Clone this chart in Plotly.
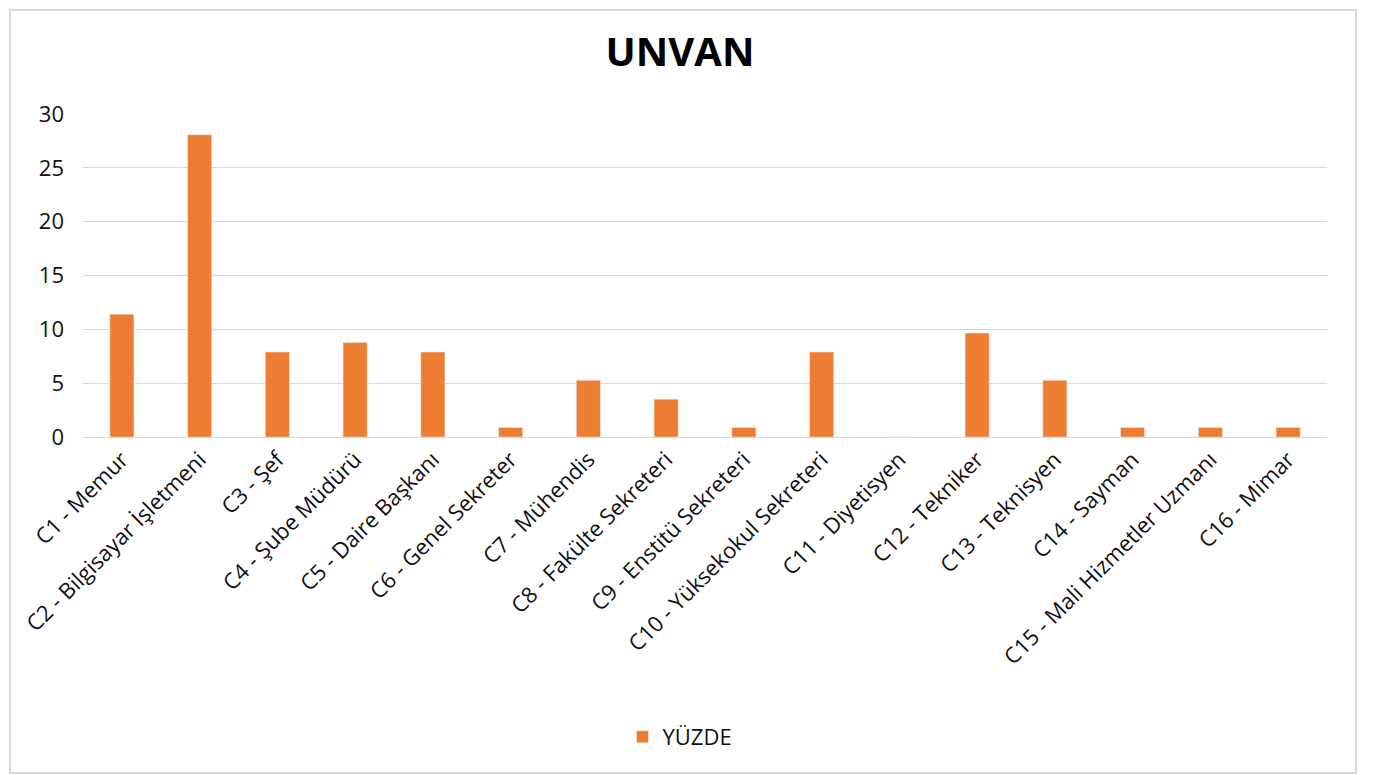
import plotly.graph_objects as go

categories = ["C1 - Memur", "C2 - Bilgisayar İşletmeni", "C3 - Şef", "C4 - Şube Müdürü",
              "C5 - Daire Başkanı", "C6 - Genel Sekreter", "C7 - Mühendis", "C8 - Fakülte Sekreteri",
              "C9 - Enstitü Sekreteri", "C10 - Yüksekokul Sekreteri", "C11 - Diyetisyen",
              "C12 - Tekniker", "C13 - Teknisyen", "C14 - Sayman", "C15 - Mali Hizmetler Uzmanı",
              "C16 - Mimar"]
yuzde = [11.4, 28.07, 7.89, 8.77, 7.89, 0.88, 5.26, 3.51, 0.88, 7.89, 0, 9.65, 5.26, 0.88, 0.88, 0.88]
series_name = "YÜZDE"
title = "UNVAN"
y_ticks = [0, 5, 10, 15, 20, 25, 30]

# page offset (body margin) in the rendered window
OFF = 8
W, H = 1379, 775
# target window-pixel positions of the plot area
PL, PR, PT, PB = 83, 1327, 114, 437
L = PL - OFF
T = PT - OFF
R = W - (PR - OFF)
B = H - (PB - OFF)

fig = go.Figure(go.Bar(x=categories, y=yuzde, name=series_name, marker_color="#ED7D31",
                       showlegend=True))

pw = PR - PL
ph = PB - PT
def px_x(p):
    return (p - PL) / pw
def px_y(p):
    return (PB - p) / ph

fig.update_layout(
    width=W, height=H,
    margin=dict(l=L, r=R, t=T, b=B),
    paper_bgcolor="white", plot_bgcolor="white",
    font=dict(family="Open Sans, Noto Sans, sans-serif", color="#111111", size=20),
    title=dict(text="<b>" + title + "</b>", x=(680 - OFF) / W, xanchor="center",
               y=1 - (52 - OFF) / H, yanchor="middle",
               font=dict(size=40, color="#000000")),
    bargap=0.69,
    showlegend=True,
    legend=dict(orientation="h", x=px_x(680), xanchor="center", y=px_y(737), yanchor="middle",
                font=dict(size=22)),
    xaxis=dict(tickangle=-45, tickfont=dict(size=22), showgrid=False, showline=True,
               linecolor="#d9d9d9", linewidth=1, ticks=""),
    yaxis=dict(range=[0, 30], tickvals=y_ticks, showgrid=True, gridcolor="#d9d9d9", gridwidth=1,
               zeroline=False, showline=False, tickfont=dict(size=22), ticks="", ticklen=0,
               ticklabelstandoff=18),
    shapes=[dict(type="rect", xref="paper", yref="paper",
                 x0=px_x(10), x1=px_x(1356), y0=px_y(773), y1=px_y(10),
                 line=dict(color="#d9d9d9", width=2), fillcolor="rgba(0,0,0,0)", layer="below")],
)

fig.write_html("out.html")
